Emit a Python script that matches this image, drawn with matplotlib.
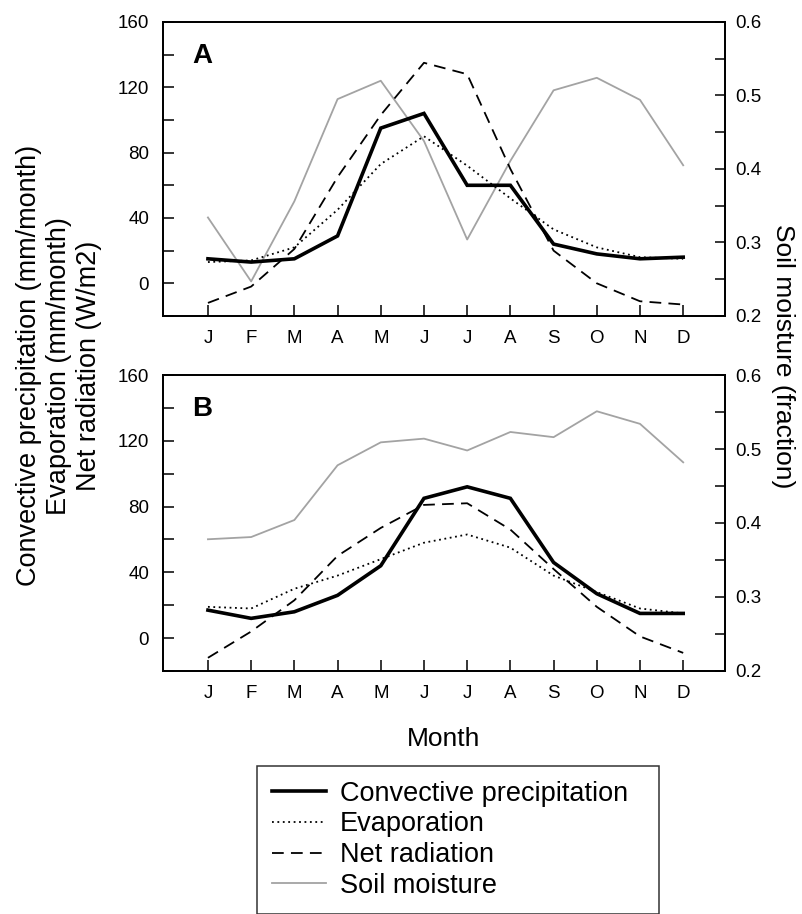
import matplotlib
matplotlib.use("Agg")
import matplotlib.pyplot as plt
from matplotlib.lines import Line2D

plt.rcParams["font.family"] = ["Liberation Sans", "DejaVu Sans"]

# Données
mois = ["J", "F", "M", "A", "M", "J", "J", "A", "S", "O", "N", "D"]

precip_a = [15, 13, 15, 29, 95, 104, 60, 60, 24, 18, 15, 16]
evap_a = [13, 14, 22, 45, 73, 90, 72, 52, 33, 22, 16, 15]
rayon_a = [-12, -2, 21, 65, 103, 135, 128, 70, 20, 0, -11, -13]
sol_a = [0.334, 0.247, 0.356, 0.495, 0.520, 0.438, 0.304, 0.411, 0.507, 0.524, 0.494, 0.405]

precip_b = [17, 12, 16, 26, 44, 85, 92, 85, 46, 27, 15, 15]
evap_b = [19, 18, 30, 38, 48, 58, 63, 55, 38, 28, 18, 15]
rayon_b = [-12, 4, 23, 50, 67, 81, 82, 66, 42, 19, 1, -9]
sol_b = [0.378, 0.381, 0.404, 0.478, 0.509, 0.514, 0.498, 0.523, 0.516, 0.551, 0.534, 0.482]

GRIS = "#a3a3a3"


def panneau(ax, lettre, precip, evap, rayon, sol):
    x = range(len(mois))
    ax2 = ax.twinx()
    ax.set_zorder(ax2.get_zorder() + 1)
    ax.patch.set_visible(False)

    ax2.plot(x, sol, color=GRIS, lw=1.3)
    ax.plot(x, rayon, color="black", lw=1.3, dashes=(6.5, 4))
    ax.plot(x, evap, color="black", lw=1.3, linestyle=(0, (1, 2)))
    ax.plot(x, precip, color="black", lw=2.6, solid_joinstyle="miter")

    ax.set_xlim(-1.04, 11.97)
    ax.set_ylim(-20, 160)
    ax.set_yticks([0, 40, 80, 120, 160])
    ax.set_yticks([-20, 20, 60, 100, 140], minor=True)
    ax.set_xticks(list(x))
    ax.set_xticklabels(mois)
    ax2.set_ylim(0.2, 0.6)
    ax2.set_yticks([0.2, 0.3, 0.4, 0.5, 0.6])
    ax2.set_yticks([0.25, 0.35, 0.45, 0.55], minor=True)

    ax.tick_params(axis="both", which="both", direction="in", length=8, width=1.1,
                   labelsize=13.5)
    ax.tick_params(axis="y", pad=10)
    ax.tick_params(axis="x", pad=10)
    ax2.tick_params(axis="y", which="both", direction="in", length=7, width=1.1,
                    labelsize=13.5, pad=7)
    ax2.yaxis.set_major_formatter(plt.FormatStrFormatter("%.1f"))
    for a in (ax, ax2):
        for s in a.spines.values():
            s.set_linewidth(1.3)

    ax.text(0.052, 0.93, lettre, transform=ax.transAxes, fontsize=20,
            fontweight="bold", va="top", ha="left")
    return ax2


fig = plt.figure(figsize=(8.03, 9.14), dpi=100)
ax_a = fig.add_axes([0.203, 0.6543, 0.700, 0.3217])
ax_b = fig.add_axes([0.203, 0.2659, 0.700, 0.3238])

panneau(ax_a, "A", precip_a, evap_a, rayon_a, sol_a)
panneau(ax_b, "B", precip_b, evap_b, rayon_b, sol_b)

ax_b.set_xlabel("Month", fontsize=19, labelpad=18)

fig.text(0.073, 0.60,
         "Convective precipitation (mm/month)\nEvaporation (mm/month)\nNet radiation (W/m2)",
         rotation=90, ha="center", va="center", fontsize=19.5, multialignment="center")
fig.text(0.975, 0.61, "Soil moisture (fraction)", rotation=-90,
         ha="center", va="center", fontsize=19)

poignees = [
    Line2D([], [], color="black", lw=2.6),
    Line2D([], [], color="black", lw=1.3, linestyle=(0, (1, 2))),
    Line2D([], [], color="black", lw=1.3, dashes=(6.5, 4)),
    Line2D([], [], color=GRIS, lw=1.3),
]
noms = ["Convective precipitation", "Evaporation", "Net radiation", "Soil moisture"]
leg = fig.legend(poignees, noms, loc="upper left",
                 bbox_to_anchor=(0.320, 0.002, 0.501, 0.160), mode="expand",
                 fontsize=19.5, frameon=True, fancybox=False, edgecolor="black",
                 borderaxespad=0, labelspacing=0.17, handlelength=2.0,
                 handletextpad=0.5, borderpad=0.55)
leg.get_frame().set_linewidth(1.1)

fig.savefig("out.png", dpi=100)
